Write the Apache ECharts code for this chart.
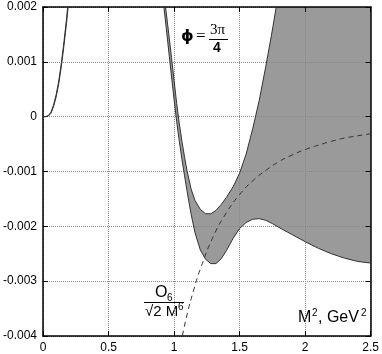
<!DOCTYPE html>
<html>
<head>
<meta charset="utf-8">
<script src="https://cdn.jsdelivr.net/npm/echarts@6/dist/echarts.min.js"></script>
<style>
  html, body { margin: 0; padding: 0; background: #fff; }
  #chart { width: 382px; height: 354px; }
</style>
</head>
<body>
<div id="chart"></div>
<script>
// M^2 values shared by both edges of the band
var bandX = [0, 0.02, 0.04, 0.06, 0.08, 0.10, 0.12, 0.14, 0.16, 0.18, 0.20, 0.22, 0.26, 0.4, 0.6, 0.8, 0.86, 0.9,
  0.92, 0.94, 0.96, 0.98, 1.0, 1.02, 1.04, 1.06, 1.08, 1.1, 1.13, 1.16, 1.2, 1.24, 1.28, 1.32, 1.36, 1.4,
  1.45, 1.5, 1.55, 1.6, 1.65, 1.7, 1.75, 1.8, 1.9, 2.0, 2.1, 2.2, 2.3, 2.4, 2.5]
// upper edge of the band
var bandUpper = [0, 0, 0.00002, 0.00008, 0.00021, 0.0004, 0.00065, 0.00098, 0.00137, 0.0018, 0.0023, 0.0028, 0.0042, 0.009, 0.009, 0.0055, 0.0037, 0.0028,
  0.0023, 0.0019, 0.0015, 0.00108, 0.00066, 0.00024, -0.00013, -0.00045, -0.00074, -0.001, -0.00132, -0.00153, -0.00169, -0.00177, -0.00177, -0.00171, -0.0016, -0.00147,
  -0.00128, -0.00103, -0.00068, -0.00022, 0.0003, 0.00092, 0.00158, 0.0023, 0.0038, 0.0053, 0.0068, 0.0083, 0.0098, 0.0113, 0.0128]
// lower edge of the band
var bandLower = [0, 0, 0.00001, 0.00006, 0.00018, 0.00036, 0.0006, 0.00092, 0.0013, 0.00172, 0.0022, 0.0027, 0.004, 0.008, 0.008, 0.005, 0.0034, 0.0025,
  0.00205, 0.00162, 0.00118, 0.00074, 0.00031, -0.00009, -0.00045, -0.00078, -0.00108, -0.00137, -0.00178, -0.00212, -0.00243, -0.0026, -0.00268, -0.00268, -0.00259, -0.00244,
  -0.00222, -0.00204, -0.00193, -0.00187, -0.00186, -0.00189, -0.00195, -0.00202, -0.00215, -0.00228, -0.0024, -0.0025, -0.00258, -0.00264, -0.00267]
// O6 / (sqrt2 M^6) dashed curve
var o6X = [1.05, 1.1, 1.15, 1.2, 1.3, 1.4, 1.5, 1.6, 1.7, 1.8, 1.9, 2.0, 2.1, 2.2, 2.3, 2.4, 2.5]
var o6Y = [-0.00415, -0.0036, -0.00316, -0.00278, -0.00218, -0.00175, -0.00142, -0.00117, -0.00098, -0.00082, -0.0007, -0.0006, -0.00052, -0.00045, -0.00039, -0.00035, -0.00031]

var font = 'Liberation Sans, Arial, sans-serif'

function zip(xs, ys) {
  return xs.map(function (x, i) { return [x, ys[i]] })
}

function xAx(pos, show) {
  return {
    type: 'value', position: pos, min: 0, max: 2.5, interval: 0.5, z: 5,
    axisLine: { show: true, onZero: false, lineStyle: { color: '#000', width: 1.5 } },
    axisTick: { show: true, inside: true, length: 5, lineStyle: { color: '#000' } },
    axisLabel: { show: show, color: '#000', fontFamily: font, fontSize: 12, margin: 6 },
    splitLine: { show: show, lineStyle: { type: 'dotted', color: '#888', width: 1 } }
  }
}
function yAx(pos, show) {
  return {
    type: 'value', position: pos, min: -0.004, max: 0.002, interval: 0.001, z: 5,
    axisLine: { show: true, onZero: false, lineStyle: { color: '#000', width: 1.5 } },
    axisTick: { show: true, inside: true, length: 5, lineStyle: { color: '#000' } },
    axisLabel: { show: show, color: '#000', fontFamily: font, fontSize: 12, margin: 6 },
    splitLine: { show: show, lineStyle: { type: 'dotted', color: '#888', width: 1 } }
  }
}

function txt(x, y, s, f) {
  return { type: 'text', left: x, top: y, style: { text: s, font: f, fill: '#000' } }
}

var myChart = echarts.init(document.getElementById('chart'))

var option = {
  animation: false,
  grid: { left: 40, right: 9, top: 7, bottom: 18 },
  xAxis: [xAx('bottom', true), xAx('top', false)],
  yAxis: [yAx('left', true), yAx('right', false)],
  series: [
    {
      // gray band between the two edges
      type: 'custom',
      clip: true,
      z: 2,
      data: [0],
      renderItem: function (params, api) {
        var pts = []
        for (var i = 0; i < bandX.length; i++) pts.push(api.coord([bandX[i], bandUpper[i]]))
        for (var j = bandX.length - 1; j >= 0; j--) pts.push(api.coord([bandX[j], bandLower[j]]))
        return {
          type: 'polygon',
          shape: { points: pts },
          style: { fill: '#9a9a9a', stroke: null }
        }
      }
    },
    {
      type: 'line', data: zip(bandX, bandUpper), showSymbol: false, z: 6,
      lineStyle: { color: '#333', width: 1 }
    },
    {
      type: 'line', data: zip(bandX, bandLower), showSymbol: false, z: 6,
      lineStyle: { color: '#333', width: 1 }
    },
    {
      type: 'line', data: zip(o6X, o6Y), showSymbol: false, smooth: true, z: 6,
      lineStyle: { color: '#333', width: 1, type: [5, 4] }
    }
  ],
  graphic: [
    txt(181, 29, 'ϕ', 'bold 16px DejaVu Sans'),
    txt(196, 28, '=', '17px Liberation Serif'),
    txt(210, 23, '3π', '15px Liberation Serif'),
    { type: 'line', shape: { x1: 209, y1: 39.5, x2: 228, y2: 39.5 }, style: { stroke: '#000', lineWidth: 1 } },
    txt(213, 41, '4', 'bold 14px Liberation Sans'),
    txt(337, 26, 'b', '16px Liberation Sans'),
    // axis name M^2, GeV^2
    txt(298, 310, 'M', '16px Liberation Sans'),
    txt(312, 308, '2', '10px Liberation Sans'),
    txt(318, 310, ', GeV', '16px Liberation Sans'),
    txt(361, 308, '2', '10px Liberation Sans'),
    // O6 / (sqrt2 M^6)
    txt(155, 285, 'O', '16px Liberation Sans'),
    txt(167, 293, '6', '10px Liberation Sans'),
    { type: 'line', shape: { x1: 144, y1: 302.5, x2: 184, y2: 302.5 }, style: { stroke: '#000', lineWidth: 1 } },
    txt(145, 304, '√2 M', '15px Liberation Sans'),
    txt(178, 302, '6', '10px Liberation Sans')
  ]
}

myChart.setOption(option)
</script>
</body>
</html>
